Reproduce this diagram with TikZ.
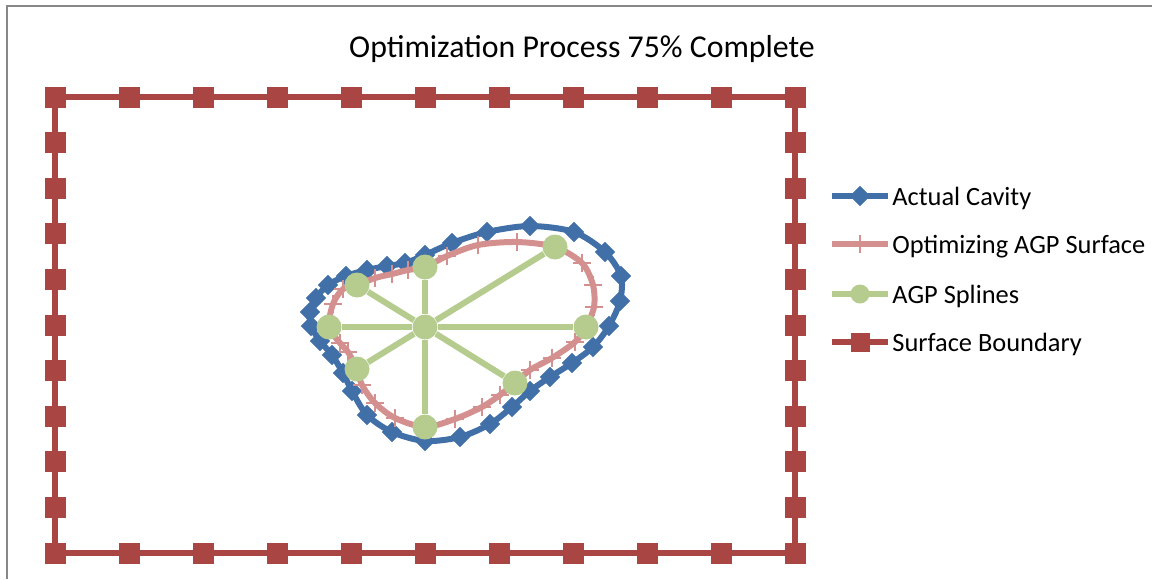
\documentclass[tikz,border=0pt]{standalone}
\usepackage{fontspec}
\setmainfont{Carlito}
\usetikzlibrary{plotmarks}

\definecolor{cavityblue}{HTML}{4170A8}
\definecolor{agppink}{HTML}{D4908E}
\definecolor{splinegreen}{HTML}{B5CC8E}
\definecolor{boundred}{HTML}{A94543}
\definecolor{framegrey}{HTML}{888888}

\begin{document}
\begin{tikzpicture}[x=0.5pt,y=-0.5pt,
    boundary/.style={draw=boundred,line width=2.6pt},
    bsquare/.style={rectangle,fill=boundred,inner sep=0pt,minimum size=10.5pt},
    cavity/.style={draw=cavityblue,line width=3pt},
    cavity marks/.style={mark=square*,mark size=3.4pt,
      mark options={rotate=45,fill=cavityblue,draw=cavityblue,line width=0.4pt}},
    agp/.style={draw=agppink,line width=3pt},
    agp marks/.style={mark=+,mark size=4.3pt,
      mark options={draw=agppink,line width=1.2pt}},
    spline/.style={draw=splinegreen,line width=3pt},
    knot/.style={circle,fill=splinegreen,inner sep=0pt,minimum size=12.5pt},
    legend/.style={anchor=base west,inner sep=0pt,font=\fontsize{13.2}{15}\selectfont}
    ]

    \useasboundingbox (0,0) rectangle (1152,579);
    \draw[framegrey,line width=1pt] (7,579) -- (7,6) -- (1152,6);

    \node (title) [anchor=base,font=\fontsize{15.9}{18}\selectfont] at (582,57)
      {Optimization Process 75\% Complete};

    % surface boundary
    \draw[boundary] (55,97) rectangle (795,553);
    \foreach \i in {0,...,10}
      {\node (top\i) [bsquare] at (55 + 74 * \i,97) {};
       \node (bot\i) [bsquare] at (55 + 74 * \i,553) {};
       \node (lft\i) [bsquare] at (55,97 + 45.6 * \i) {};
       \node (rgt\i) [bsquare] at (795,97 + 45.6 * \i) {};
      }

    % actual cavity
    \draw[cavity,cavity marks] plot[smooth cycle] coordinates {
      (310,312) (316,298) (328,285) (346,276) (367,270) (387,266) (405,263)
      (425,255) (452,243) (487,232) (530,226) (574,232) (605,252) (621,276)
      (620,301) (609,326) (593,347) (572,363) (550,377) (530,391) (512,407)
      (490,424) (460,437) (425,441) (392,432) (367,415) (352,391) (343,373)
      (332,355) (320,341) (311,326)};

    % optimizing surface
    \draw[agp,agp marks] plot[smooth cycle] coordinates {
      (329,327) (333,304) (343,289) (357,285) (375,278) (392,274) (408,270)
      (425,267) (447,256) (478,245) (517,242) (555,247) (582,263) (593,285)
      (594,307) (586,327) (575,342) (552,358) (530,370) (515,383) (500,395)
      (482,407) (455,419) (425,427) (395,418) (375,403) (362,385) (357,369)
      (348,352) (340,343)};

    % splines
    \node (hub) [knot] at (425,327) {};
    \node (kt) [knot] at (425,267) {};
    \node (kul) [knot] at (357,285) {};
    \node (kl) [knot] at (329,327) {};
    \node (kll) [knot] at (357,369) {};
    \node (kb) [knot] at (425,427) {};
    \node (klr) [knot] at (515,383) {};
    \node (kr) [knot] at (586,327) {};
    \node (kur) [knot] at (555,247) {};
    \foreach \k in {kt,kul,kl,kll,kb,klr,kr,kur}
      \draw[spline] (hub) -- (\k);

    % legend
    \node (lcav) [legend] at (892,205) {Actual Cavity};
    \node (lagp) [legend] at (892,253) {Optimizing AGP Surface};
    \node (lspl) [legend] at (892,303) {AGP Splines};
    \node (lbnd) [legend] at (892,351) {Surface Boundary};

    \draw[cavity] (832,196) -- (888,196);
    \path[cavity marks] plot coordinates {(860,196)};
    \draw[agp] (832,244) -- (888,244);
    \path[agp marks] plot coordinates {(860,244)};
    \draw[spline] (832,294) -- (888,294);
    \node (lknot) [knot,minimum size=9.5pt] at (860,294) {};
    \draw[boundary,line width=2.8pt] (832,342) -- (888,342);
    \node (lsq) [bsquare,minimum size=9.5pt] at (860,342) {};

  \end{tikzpicture}
\end{document}
